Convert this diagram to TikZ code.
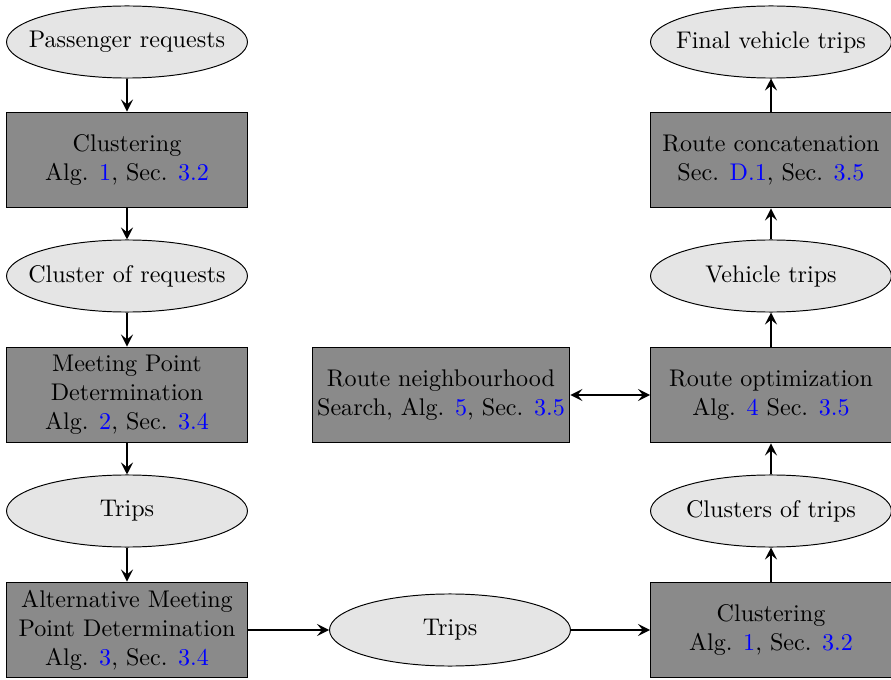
\documentclass[tikz,border=0pt]{standalone}
\usetikzlibrary{arrows.meta,shapes.geometric}
\definecolor{boxgray}{gray}{0.54}
\definecolor{ellgray}{gray}{0.9}
\tikzset{
  x=0.415pt, y=-0.415pt,
  procbox/.style={rectangle, draw=black, fill=boxgray, minimum width=100pt, minimum height=39.8pt, align=center, inner sep=1pt, thin},
  databox/.style={ellipse, draw=black, fill=ellgray, minimum width=100pt, minimum height=29.9pt, inner sep=0pt, thin},
  flow/.style={-{Stealth[length=5pt,width=5pt,inset=2pt]}, thick},
  biflow/.style={{Stealth[length=5pt,width=5pt,inset=2pt]}-{Stealth[length=5pt,width=5pt,inset=2pt]}, thick},
}
\newcommand{\bl}[1]{\textcolor{blue}{#1}}
\newcommand{\ctxt}[1]{\makebox[0pt][c]{#1}}
\begin{document}
\begin{tikzpicture}
\useasboundingbox (0,0) rectangle (891,680);
% left column
\node[databox] (pr) at (127,42) {\ctxt{Passenger requests}};
\node[procbox] (cl1) at (127,160) {Clustering\\Alg. \bl{1}, Sec. \bl{3.2}};
\node[databox] (cr) at (127,276) {\ctxt{Cluster of requests}};
\node[procbox] (mpd) at (127,395) {Meeting Point\\Determination\\Alg. \bl{2}, Sec. \bl{3.4}};
\node[databox] (tr1) at (127,511) {\ctxt{Trips}};
\node[procbox] (ampd) at (127,630) {Alternative Meeting\\Point Determination\\Alg. \bl{3}, Sec. \bl{3.4}};
% middle
\node[procbox, minimum width=107pt] (rns) at (441,395) {Route neighbourhood\\Search, Alg. \bl{5}, Sec. \bl{3.5}};
\node[databox] (tr2) at (450,630) {\ctxt{Trips}};
% right column
\node[procbox] (cl2) at (771,630) {Clustering\\Alg. \bl{1}, Sec. \bl{3.2}};
\node[databox] (ct) at (771,511) {\ctxt{Clusters of trips}};
\node[procbox] (ro) at (771,395) {Route optimization\\Alg. \bl{4} Sec. \bl{3.5}};
\node[databox] (vt) at (771,276) {\ctxt{Vehicle trips}};
\node[procbox] (rc) at (771,160) {Route concatenation\\Sec. \bl{D.1}, Sec. \bl{3.5}};
\node[databox] (fvt) at (771,42) {\ctxt{Final vehicle trips}};
% connectors
\draw[flow] (pr) -- (cl1);
\draw[flow] (cl1) -- (cr);
\draw[flow] (cr) -- (mpd);
\draw[flow] (mpd) -- (tr1);
\draw[flow] (tr1) -- (ampd);
\draw[flow] (ampd) -- (tr2);
\draw[flow] (tr2) -- (cl2);
\draw[flow] (cl2) -- (ct);
\draw[flow] (ct) -- (ro);
\draw[biflow] (rns) -- (ro);
\draw[flow] (ro) -- (vt);
\draw[flow] (vt) -- (rc);
\draw[flow] (rc) -- (fvt);
\end{tikzpicture}
\end{document}
